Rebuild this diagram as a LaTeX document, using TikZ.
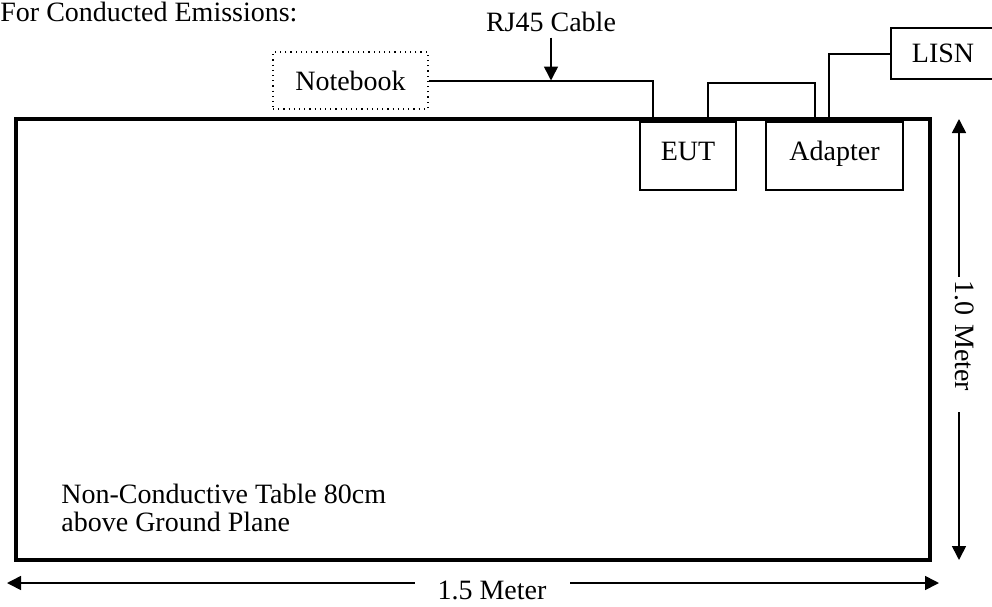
\documentclass[tikz,border=0pt]{standalone}
\usepackage{fontspec}
\setmainfont{Liberation Serif}
\usetikzlibrary{positioning, calc, arrows.meta}

\begin{document}
\begin{tikzpicture}[
    x=0.5pt, y=-0.5pt,
    unitbox/.style={draw, line width=1pt, inner sep=0pt, minimum height=34pt, text height=0.7em, text depth=0.3em},
    wire/.style={line width=1pt},
    dimline/.style={line width=0.8pt, {Triangle[length=7pt,width=7pt]}-{Triangle[length=7pt,width=7pt]}},
    font=\fontsize{14pt}{14pt}\selectfont
]
\useasboundingbox (0,0) rectangle (992,606);
% Title
\node[anchor=base west, inner sep=0pt] (title) at (0,21) {For Conducted Emissions:};
% Table
\node[draw, line width=2pt, outer sep=0pt, minimum width=457pt, minimum height=220.5pt] (table) at (473,339.5) {};
\node[anchor=south west, inner sep=0pt, align=left] (tablelabel) at (61,532) {Non-Conductive Table 80cm\\above Ground Plane};
% Units on the table, notebook and LISN
\node[unitbox, minimum width=48pt] (eut) at (688,156) {EUT};
\node[unitbox, minimum width=68.5pt, right=14pt of eut] (adapter) {Adapter};
\node[draw, dotted, line width=0.6pt, minimum width=77.5pt, minimum height=28.5pt] (notebook) at (350.5,80.5) {Notebook};
\node[draw, line width=1pt, minimum width=52pt, minimum height=25.5pt] (lisn) at (943,53.5) {LISN};
\node[anchor=base, inner sep=3pt] (rj45) at (551,31) {RJ45 Cable};
% Cables
\draw[wire] (notebook.east) -| ([xshift=7pt]eut.north west);
\draw[-{Triangle[length=7pt,width=7pt]}, line width=0.8pt] (rj45.south) -- (rj45.south |- notebook.east);
\draw[wire] ([xshift=10pt]eut.north) -- ++(0,-38) -| ([xshift=25pt]adapter.north west);
\draw[wire] ([xshift=32pt]adapter.north west) |- (lisn.west);
% Dimensions
\draw[dimline] ([xshift=14.5pt]table.north east) -- ([xshift=14.5pt]table.south east);
\node[fill=white, rotate=-90, inner xsep=1.5pt, text width=64.5pt, align=left] (vlabel) at (965,344.5) {1.0 Meter};
\coordinate (wleft) at (7,583);
\coordinate (wright) at (939,583);
\draw[dimline] (wleft) -- (wright);
\node[fill=white, minimum width=77.5pt, inner ysep=1pt] (hlabel) at (492,590) {1.5 Meter};
\end{tikzpicture}
\end{document}
